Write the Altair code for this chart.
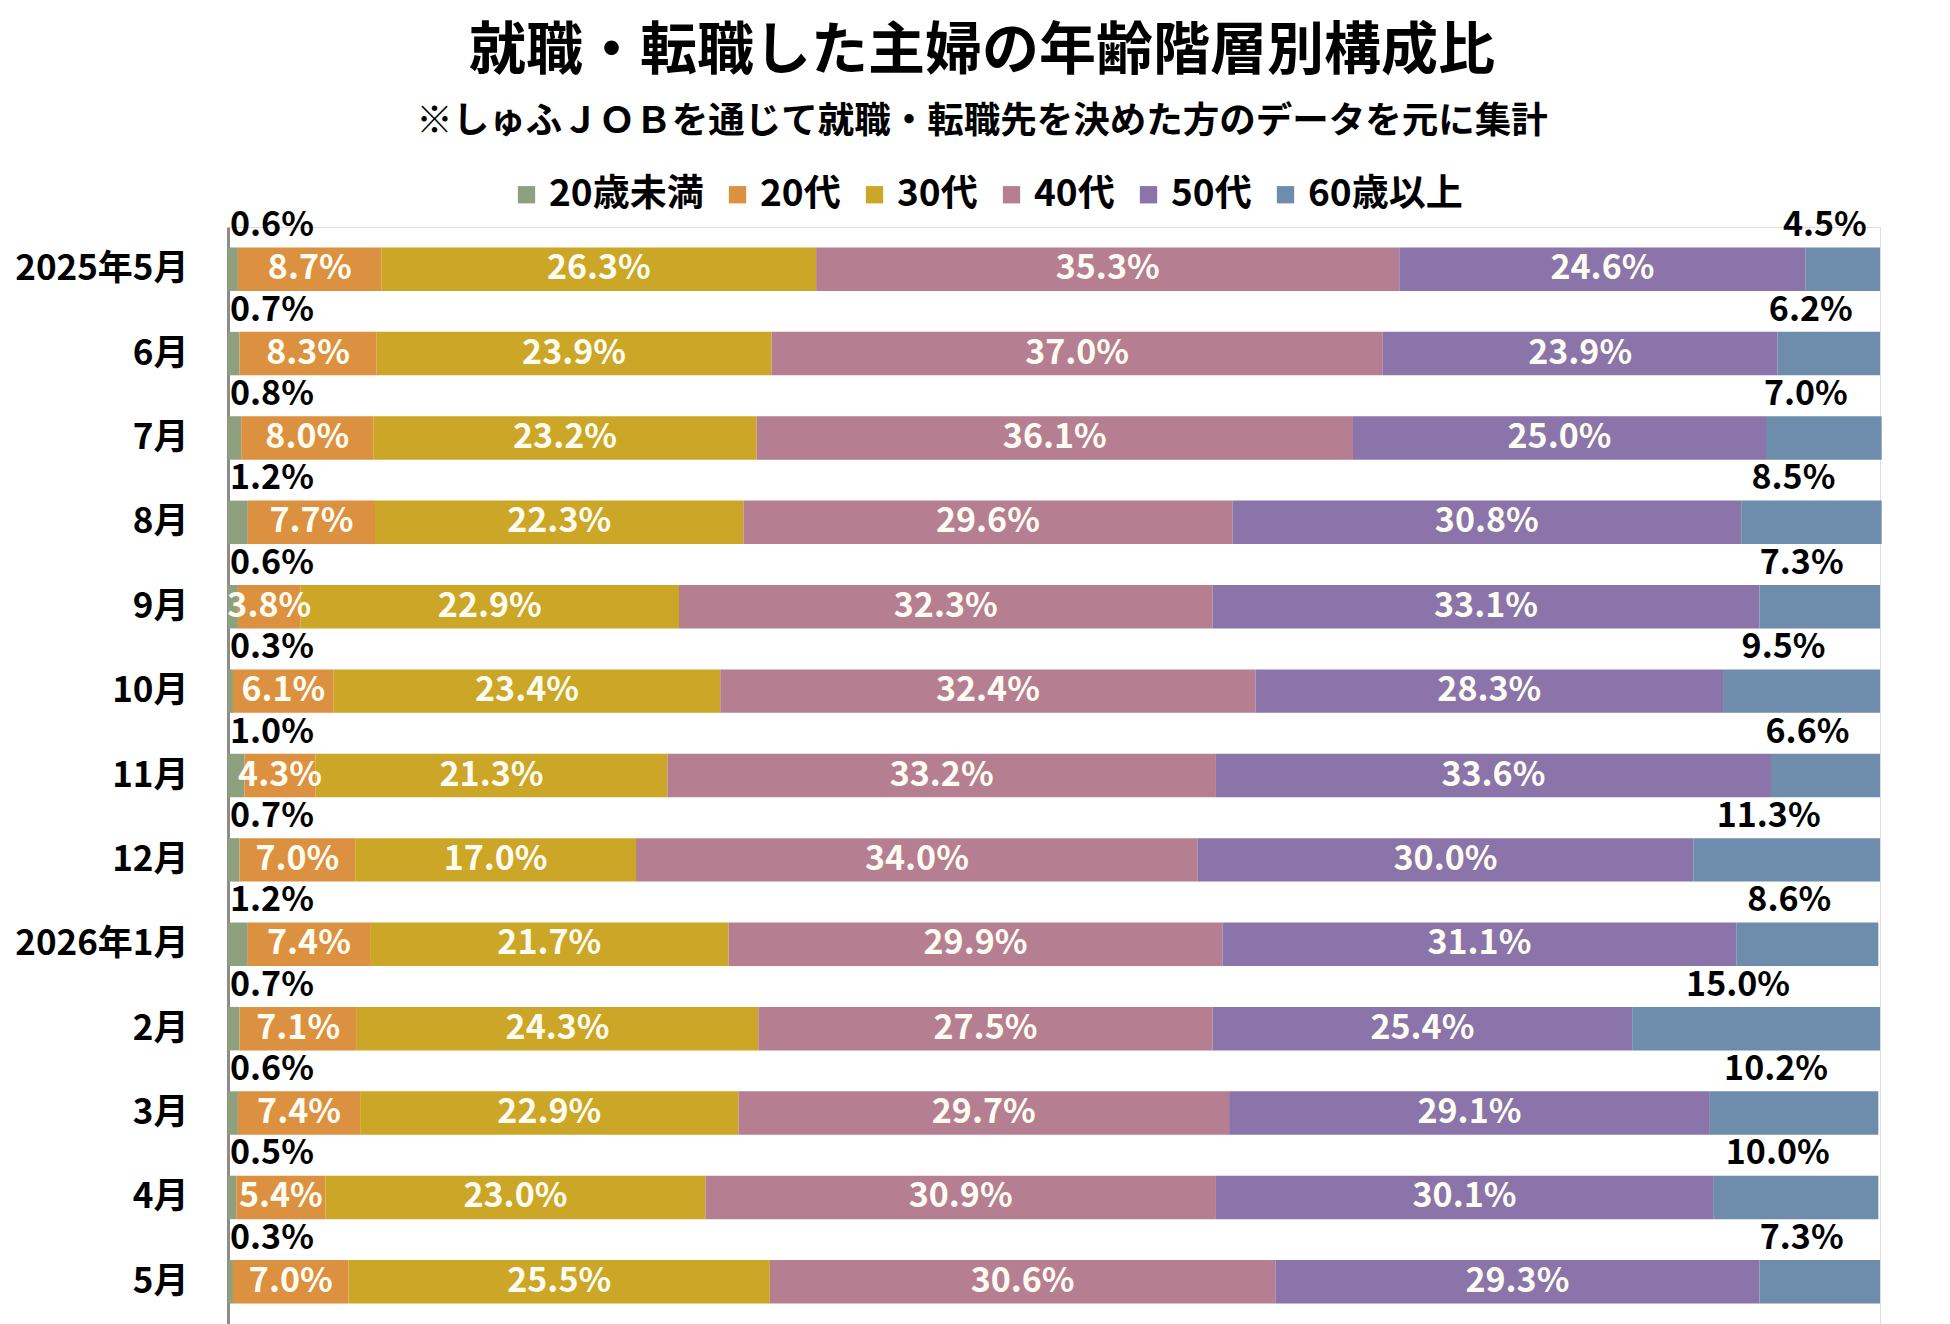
import altair as alt
import pandas as pd

months = ["2025年5月", "6月", "7月", "8月", "9月", "10月", "11月", "12月",
          "2026年1月", "2月", "3月", "4月", "5月"]
cats = ["20歳未満", "20代", "30代", "40代", "50代", "60歳以上"]
colors = ["#8fa07e", "#dc9140", "#cba627", "#b67f91", "#8a74a9", "#6e8cab"]

v_u20 = [0.6, 0.7, 0.8, 1.2, 0.6, 0.3, 1.0, 0.7, 1.2, 0.7, 0.6, 0.5, 0.3]
v_20s = [8.7, 8.3, 8.0, 7.7, 3.8, 6.1, 4.3, 7.0, 7.4, 7.1, 7.4, 5.4, 7.0]
v_30s = [26.3, 23.9, 23.2, 22.3, 22.9, 23.4, 21.3, 17.0, 21.7, 24.3, 22.9, 23.0, 25.5]
v_40s = [35.3, 37.0, 36.1, 29.6, 32.3, 32.4, 33.2, 34.0, 29.9, 27.5, 29.7, 30.9, 30.6]
v_50s = [24.6, 23.9, 25.0, 30.8, 33.1, 28.3, 33.6, 30.0, 31.1, 25.4, 29.1, 30.1, 29.3]
v_60p = [4.5, 6.2, 7.0, 8.5, 7.3, 9.5, 6.6, 11.3, 8.6, 15.0, 10.2, 10.0, 7.3]
series = [v_u20, v_20s, v_30s, v_40s, v_50s, v_60p]

rows = []
for i, m in enumerate(months):
    for j, c in enumerate(cats):
        rows.append({"month": m, "cat": c, "val": series[j][i], "order": j})
df = pd.DataFrame(rows)

FONT = "Noto Sans CJK JP"

base = alt.Chart(df).transform_stack(
    stack="val", as_=["x0", "x1"], groupby=["month"], sort=[alt.SortField("order")]
).transform_calculate(
    mid="(datum.x0 + datum.x1) / 2",
    label="format(datum.val, '.1f') + '%'",
)

xscale = alt.Scale(domain=[0, 100], nice=False, zero=True)
yenc = alt.Y(
    "month:N", sort=months, title=None,
    scale=alt.Scale(paddingInner=0.485, paddingOuter=0.2425),
    axis=alt.Axis(ticks=False, labelFont=FONT, labelFontSize=35, labelFontWeight="bold",
                  labelColor="#000000", labelPadding=40, domainColor="#8c8c8c",
                  domainWidth=3, grid=False),
)

bars = base.mark_bar().encode(
    x=alt.X("x0:Q", scale=xscale, axis=None),
    x2="x1:Q",
    y=yenc,
    color=alt.Color(
        "cat:N", scale=alt.Scale(domain=cats, range=colors),
        legend=alt.Legend(title=None, orient="none", direction="horizontal",
                          legendX=280, legendY=-51, symbolType="square", symbolSize=300,
                          symbolStrokeWidth=0, labelFont=FONT, labelFontSize=37,
                          labelFontWeight="bold", labelColor="#000000",
                          labelOffset=4, columnPadding=15, padding=0),
    ),
    order=alt.Order("order:Q"),
)

inside = base.transform_filter("datum.order >= 1 && datum.order <= 4").mark_text(
    color="#fffdf2", font=FONT, fontSize=34, fontWeight="bold", baseline="middle"
).encode(
    x=alt.X("mid:Q", scale=xscale, axis=None),
    y=alt.Y("month:N", sort=months),
    text="label:N",
)

u20 = base.transform_filter("datum.order == 0").mark_text(
    color="#000000", font=FONT, fontSize=34, fontWeight="bold", baseline="middle",
    align="left", dx=2, dy=-43
).encode(
    x=alt.X("x0:Q", scale=xscale, axis=None),
    y=alt.Y("month:N", sort=months),
    text="label:N",
)

o60 = base.transform_filter("datum.order == 5").mark_text(
    color="#000000", font=FONT, fontSize=34, fontWeight="bold", baseline="middle",
    align="center", dx=-18, dy=-43
).encode(
    x=alt.X("mid:Q", scale=xscale, axis=None),
    y=alt.Y("month:N", sort=months),
    text="label:N",
)

chart = alt.layer(bars, inside, u20, o60).properties(
    width=1652,
    height=1097,
    autosize=alt.AutoSizeParams(type="none"),
    padding={"left": 228, "top": 227, "right": 70, "bottom": 0},
    title=alt.TitleParams(
        text="就職・転職した主婦の年齢階層別構成比",
        subtitle="※しゅふＪＯＢを通じて就職・転職先を決めた方のデータを元に集計",
        font=FONT, fontSize=57, fontWeight="bold", color="#000000",
        subtitleFont=FONT, subtitleFontSize=36.5, subtitleFontWeight="bold",
        subtitleColor="#000000", subtitlePadding=23,
        anchor="middle", dx=-72, offset=35,
    ),
).configure_view(stroke=None).configure(background="#ffffff")

chart.save("out.html", embed_options={"renderer": "svg", "actions": False})
